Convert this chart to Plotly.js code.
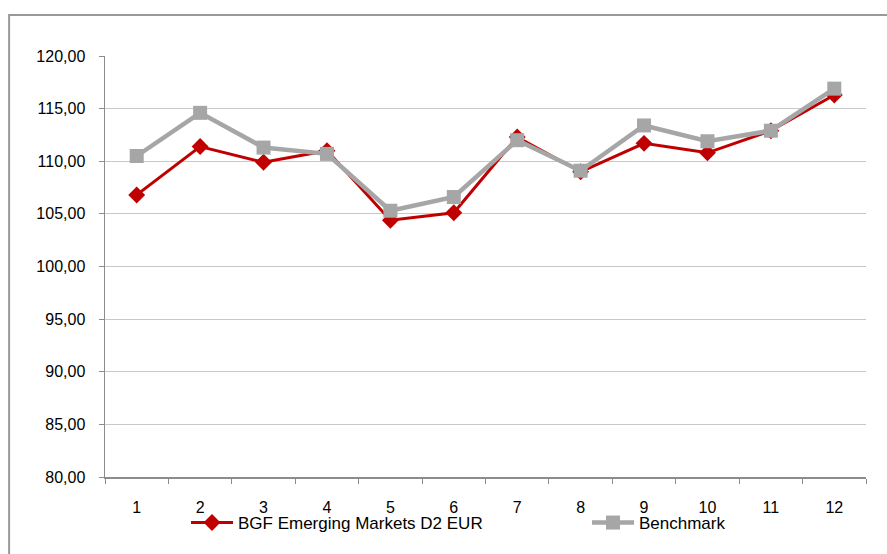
<!DOCTYPE html>
<html>
<head>
<meta charset="utf-8">
<script src="https://cdn.plot.ly/plotly-3.0.1.min.js"></script>
<style>html,body{margin:0;padding:0;background:#fff;}#chart{width:887px;height:554px;}</style>
</head>
<body>
<div id="chart"></div>
<script>
const categories = ["1","2","3","4","5","6","7","8","9","10","11","12"];
const fundName = "BGF Emerging Markets D2 EUR";
const fundValues = [106.8, 111.4, 109.9, 111.0, 104.4, 105.1, 112.3, 109.0, 111.7, 110.8, 112.9, 116.3];
const benchName = "Benchmark";
const benchValues = [110.5, 114.6, 111.3, 110.7, 105.3, 106.6, 112.0, 109.1, 113.4, 111.9, 112.9, 116.9];
const yTicks = [80, 85, 90, 95, 100, 105, 110, 115, 120];

const traces = [
  {x: categories, y: fundValues, name: fundName, type: 'scatter', mode: 'lines+markers',
   line: {color: '#C00000', width: 3}, marker: {symbol: 'diamond', size: 13, color: '#C00000'},
   legend: 'legend'},
  {x: categories, y: benchValues, name: benchName, type: 'scatter', mode: 'lines+markers',
   line: {color: '#A6A6A6', width: 4.5}, marker: {symbol: 'square', size: 14, color: '#A6A6A6'},
   legend: 'legend2'}
];

const legendBase = {orientation: 'h', xref: 'container', yref: 'container', xanchor: 'left', yanchor: 'middle',
                    y: 1 - 523/554, font: {size: 17}, bgcolor: 'rgba(0,0,0,0)', itemwidth: 42};

const layout = {
  width: 887, height: 554,
  margin: {l: 105, r: 21, t: 56, b: 77},
  paper_bgcolor: '#fff', plot_bgcolor: '#fff',
  separators: ',.',
  font: {family: 'Liberation Sans, Arial, sans-serif', size: 16, color: '#000'},
  showlegend: true,
  legend: Object.assign({}, legendBase, {x: 186/887}),
  legend2: Object.assign({}, legendBase, {x: 587/887}),
  xaxis: {type: 'category', range: [-0.5, 11.5], tickson: 'boundaries', showgrid: false, showline: true,
          linecolor: '#8c8c8c', linewidth: 1.5, ticks: 'outside', ticklen: 5, tickcolor: '#8c8c8c',
          ticklabelstandoff: 15, zeroline: false, fixedrange: true, automargin: false},
  yaxis: {range: [80, 120], tickvals: yTicks, tickformat: '.2f', showgrid: true, gridcolor: '#c8c8c8',
          gridwidth: 1, showline: true, linecolor: '#8c8c8c', linewidth: 1.5, ticks: 'outside',
          ticklen: 5, tickcolor: '#8c8c8c', ticklabelstandoff: 10, zeroline: false, fixedrange: true, automargin: false},
  shapes: [{type: 'rect', xref: 'paper', yref: 'paper', x0: -0.126, x1: 1.06, y0: -0.25, y1: 1.0974,
            line: {color: '#999999', width: 2}, fillcolor: 'rgba(0,0,0,0)', layer: 'below'}]
};

Plotly.newPlot('chart', traces, layout, {displayModeBar: false, staticPlot: true});
</script>
</body>
</html>
